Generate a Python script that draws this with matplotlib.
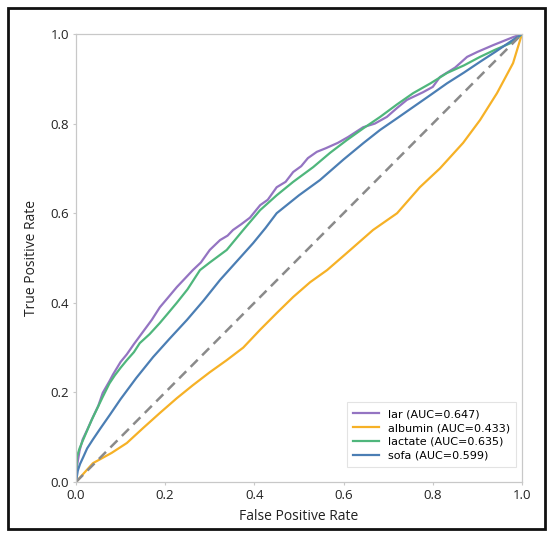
import matplotlib
matplotlib.use("Agg")
from matplotlib import pyplot as plt
from matplotlib.patches import Rectangle

# ROC curves
lar_fpr = [0, .003, .008, .015, .025, .038, .05, .06, .075, .083, .1, .114, .13, .15, .17, .188, .205, .226, .245,
           .262, .28, .3, .323, .34, .352, .37, .39, .413, .43, .45, .47, .487, .505, .52, .54, .56, .587, .61,
           .644, .67, .697, .72, .742, .778, .8, .816, .85, .877, .9, .935, .96, .98, 1]
lar_tpr = [0, .04, .07, .095, .116, .145, .17, .199, .225, .24, .268, .285, .308, .335, .362, .39, .41, .435, .455,
           .473, .49, .518, .54, .55, .5625, .575, .59, .618, .63, .658, .67, .692, .705, .723, .737, .745, .757,
           .77, .792, .80, .815, .835, .853, .87, .882, .904, .925, .949, .96, .975, .985, .993, 1]

albumin_fpr = [0, .038, .08, .114, .15, .188, .226, .262, .30, .338, .375, .413, .45, .487, .525, .563, .607,
               .666, .72, .771, .816, .868, .906, .944, .98, .991, 1]
albumin_tpr = [0, .042, .065, .087, .12, .154, .187, .216, .245, .272, .30, .34, .377, .413, .446, .473, .511,
               .5625, .60, .658, .70, .757, .808, .868, .935, .971, 1]

lactate_fpr = [0, .002, .008, .016, .025, .035, .048, .06, .075, .087, .1, .114, .13, .143, .165, .188, .205,
               .226, .25, .278, .3, .338, .375, .413, .45, .487, .532, .57, .607, .645, .682, .72, .756, .795,
               .832, .87, .906, .94, .98, 1]
lactate_tpr = [0, .056, .075, .094, .115, .138, .165, .19, .22, .238, .255, .272, .29, .31, .33, .355, .375,
               .40, .43, .473, .49, .518, .5625, .607, .64, .67, .703, .735, .763, .79, .815, .843, .868, .89,
               .913, .93, .949, .965, .982, 1]

sofa_fpr = [0, .004, .009, .016, .025, .038, .055, .076, .1, .135, .173, .21, .249, .286, .323, .36, .397,
            .425, .45, .5, .547, .6, .645, .682, .72, .756, .795, .832, .87, .906, .94, .98, 1]
sofa_tpr = [0, .025, .04, .055, .075, .095, .12, .15, .185, .232, .279, .32, .362, .405, .451, .492, .533,
            .567, .60, .64, .674, .72, .757, .786, .812, .837, .864, .89, .914, .938, .96, .987, 1]

labels = ['lar (AUC=0.647)', 'albumin (AUC=0.433)', 'lactate (AUC=0.635)', 'sofa (AUC=0.599)']
colors = ['#9474c2', '#f6b126', '#4fb67c', '#4b7eb4']

fig = plt.figure(figsize=(5.53, 5.40), dpi=100)
ax = fig.add_axes([0.1374, 0.1074, 0.8065, 0.8296])

curves = [(lar_fpr, lar_tpr), (albumin_fpr, albumin_tpr), (lactate_fpr, lactate_tpr), (sofa_fpr, sofa_tpr)]
for (x, y), lab, c in zip(curves, labels, colors):
    ax.plot(x, y, color=c, lw=1.6, label=lab)
ax.plot([0, 1], [0, 1], color='#8a8a8a', lw=1.8, linestyle=(0, (4, 2.5)))

ax.set_xlim(0, 1)
ax.set_ylim(0, 1)
ax.set_xticks([0, .2, .4, .6, .8, 1.0])
ax.set_yticks([0, .2, .4, .6, .8, 1.0])
ax.tick_params(length=2, width=0.8, color='#c8c8c8', pad=3, labelsize=9.5, labelcolor='#222222')
for t in ax.get_xticklabels() + ax.get_yticklabels():
    t.set_family('Open Sans')
for s in ax.spines.values():
    s.set_color('#c8c8c8')
    s.set_linewidth(0.9)

ax.set_xlabel('False Positive Rate', family='Open Sans', fontsize=10, color='#222222', labelpad=5)
ax.set_ylabel('True Positive Rate', family='Open Sans', fontsize=10, color='#222222', labelpad=8)

leg = ax.legend(loc='lower right', fontsize=8, handlelength=2.3, borderpad=0.6,
                labelspacing=0.35, fancybox=False, bbox_to_anchor=(1.0, 0.02))
leg.get_frame().set_edgecolor('#dddddd')
leg.get_frame().set_linewidth(0.8)

# black frame round the whole picture
fig.patches.append(Rectangle((8 / 553, 1 - 529 / 540), 537 / 553, 521 / 540, transform=fig.transFigure,
                             fill=False, edgecolor='#111111', lw=2))

fig.savefig('out.png', dpi=100)
